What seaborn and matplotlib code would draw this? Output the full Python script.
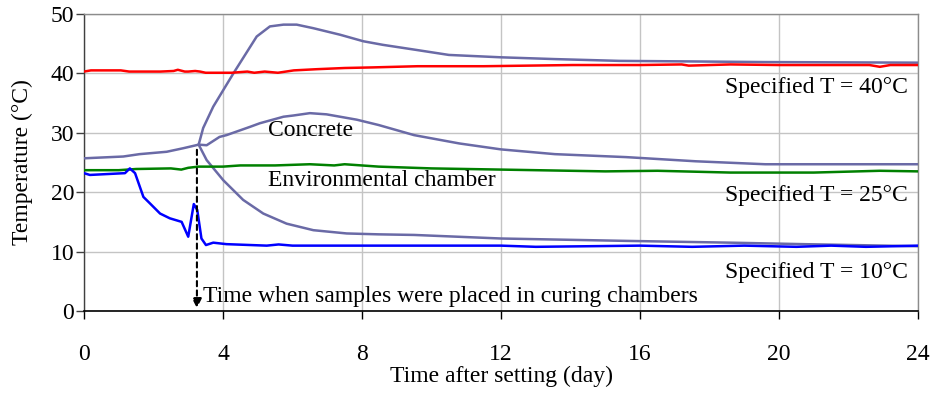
import numpy as np
import pandas as pd
import matplotlib
matplotlib.use("Agg")
import matplotlib.pyplot as plt
import seaborn as sns

# Chamber air temperatures (day, °C)
red_day = [0.0, 0.2, 1.06, 1.3, 2.2, 2.58, 2.7, 2.9, 3.0, 3.2, 3.34, 3.5, 4.25, 4.7, 4.9, 5.2, 5.58, 6.04, 6.7, 7.5, 8.3, 9.6, 11.5, 14.06, 16.0, 17.2, 17.4, 18.6, 20.0, 22.6, 22.9, 23.2, 24.0]
red_temp = [40.3, 40.5, 40.5, 40.3, 40.3, 40.4, 40.6, 40.3, 40.3, 40.4, 40.3, 40.1, 40.1, 40.3, 40.1, 40.3, 40.1, 40.5, 40.7, 40.9, 41.0, 41.2, 41.2, 41.4, 41.4, 41.5, 41.3, 41.5, 41.4, 41.4, 41.1, 41.4, 41.4]

green_day = [0.0, 1.0, 1.5, 2.5, 2.8, 3.0, 3.3, 4.0, 4.5, 5.5, 6.5, 7.2, 7.5, 8.48, 10.0, 13.0, 15.0, 16.5, 18.6, 21.0, 22.9, 24.0]
green_temp = [23.7, 23.7, 23.9, 24.0, 23.8, 24.1, 24.3, 24.3, 24.5, 24.5, 24.7, 24.5, 24.7, 24.3, 24.0, 23.7, 23.5, 23.6, 23.3, 23.3, 23.6, 23.5]

blue_day = [0.0, 0.17, 1.18, 1.32, 1.47, 1.71, 1.9, 2.19, 2.47, 2.81, 3.0, 3.16, 3.26, 3.38, 3.51, 3.72, 4.1, 5.26, 5.6, 6.0, 9.0, 12.0, 13.0, 16.0, 17.5, 19.0, 20.5, 21.5, 22.5, 23.3, 24.0]
blue_temp = [23.2, 22.9, 23.2, 24.0, 23.2, 19.2, 18.1, 16.4, 15.6, 15.0, 12.5, 18.0, 17.0, 12.2, 11.1, 11.5, 11.25, 11.0, 11.2, 11.0, 11.0, 11.0, 10.8, 11.0, 10.8, 11.0, 10.8, 11.0, 10.8, 10.9, 11.0]

# Concrete temperatures: one shared record before placement, then one per chamber
pre_day = [0.0, 1.13, 1.6, 2.38, 2.86, 3.3]
pre_temp = [25.7, 26.0, 26.4, 26.8, 27.4, 28.0]

hot_day = [3.3, 3.43, 3.72, 4.3, 4.97, 5.35, 5.74, 6.12, 6.6, 7.37, 8.04, 8.6, 9.5, 10.5, 12.0, 13.55, 15.4, 17.6, 19.6, 24.0]
hot_temp = [28.0, 30.8, 34.4, 40.0, 46.2, 47.9, 48.2, 48.2, 47.6, 46.5, 45.4, 44.8, 44.0, 43.1, 42.7, 42.4, 42.1, 42.0, 41.9, 41.8]

mid_day = [3.3, 3.53, 3.9, 4.1, 4.78, 5.06, 5.74, 6.02, 6.5, 6.98, 7.85, 8.48, 9.5, 10.8, 12.0, 13.55, 15.6, 17.6, 19.6, 24.0]
mid_temp = [28.0, 27.9, 29.3, 29.6, 31.0, 31.6, 32.7, 32.9, 33.3, 33.1, 32.2, 31.3, 29.6, 28.2, 27.2, 26.4, 25.9, 25.2, 24.7, 24.7]

cold_day = [3.3, 3.53, 4.01, 4.58, 5.16, 5.83, 6.6, 7.56, 8.48, 9.5, 12.0, 15.6, 18.6, 20.7, 24.0]
cold_temp = [28.0, 25.4, 22.0, 18.7, 16.4, 14.7, 13.6, 13.05, 12.9, 12.8, 12.2, 11.8, 11.5, 11.25, 10.9]

x_ticks = [0, 4, 8, 12, 16, 20, 24]
y_ticks = [0, 10, 20, 30, 40, 50]
placement_day = 3.25

sns.set_theme(style="white")
plt.rcParams["font.family"] = ["Liberation Serif", "DejaVu Serif"]
plt.rcParams["text.color"] = "black"
plt.rcParams["axes.labelcolor"] = "black"
plt.rcParams["xtick.color"] = "black"
plt.rcParams["ytick.color"] = "black"

fig = plt.figure(figsize=(9.33, 3.95), dpi=100)
ax = fig.add_axes([0.090, 0.2127, 0.894, 0.752])

concrete_color = "#6A6AA6"
series = [
    (pre_day, pre_temp, concrete_color, 1.8),
    (hot_day, hot_temp, concrete_color, 1.8),
    (mid_day, mid_temp, concrete_color, 1.8),
    (cold_day, cold_temp, concrete_color, 1.8),
    (red_day, red_temp, "#FF0000", 1.8),
    (green_day, green_temp, "#008000", 1.8),
    (blue_day, blue_temp, "#0000FF", 1.8),
]
for d, t, c, lw in series:
    df = pd.DataFrame({"day": d, "temp": t})
    sns.lineplot(data=df, x="day", y="temp", ax=ax, color=c, linewidth=lw,
                 estimator=None, sort=False, zorder=3)

ax.set_xlim(0, 24)
ax.set_ylim(0, 50)
ax.set_xticks(x_ticks)
ax.set_yticks(y_ticks)
ax.grid(True, color="#C4C4C4", linewidth=1.0)
ax.set_axisbelow(True)

for side in ["top", "right"]:
    ax.spines[side].set_color("#8C8C8C")
    ax.spines[side].set_linewidth(1.0)
ax.spines["left"].set_color("#404040")
ax.spines["bottom"].set_color("#000000")
ax.spines["left"].set_linewidth(1.0)
ax.spines["bottom"].set_linewidth(1.2)

ax.tick_params(axis="x", direction="out", length=6, width=1, color="black",
               labelcolor="black", pad=18, labelsize=17, bottom=True)
ax.tick_params(axis="y", direction="out", length=6, width=1, color="#404040",
               labelcolor="black", pad=1, labelsize=17, left=True)

ax.set_xlabel("Time after setting (day)", fontsize=17, labelpad=0, color="black")
ax.set_ylabel("Temperature (°C)", fontsize=17, labelpad=13, color="black")

fs = 17
ax.text(5.3, 30.4, "Concrete", fontsize=fs, va="center", ha="left")
ax.text(5.3, 22.0, "Environmental chamber", fontsize=fs, va="center", ha="left")
ax.text(23.7, 37.6, "Specified T = 40°C", fontsize=fs, va="center", ha="right")
ax.text(23.7, 19.5, "Specified T = 25°C", fontsize=fs, va="center", ha="right")
ax.text(23.7, 6.5, "Specified T = 10°C", fontsize=fs, va="center", ha="right")
ax.text(3.42, 2.5, "Time when samples were placed in curing chambers",
        fontsize=fs, va="center", ha="left")

ax.annotate("", xy=(placement_day, 0.0), xytext=(placement_day, 27.6),
            arrowprops=dict(arrowstyle="-|>", linestyle=(0, (2.5, 2)),
                            color="black", lw=1.5, mutation_scale=14),
            zorder=4)

fig.savefig("out.png", dpi=100)
